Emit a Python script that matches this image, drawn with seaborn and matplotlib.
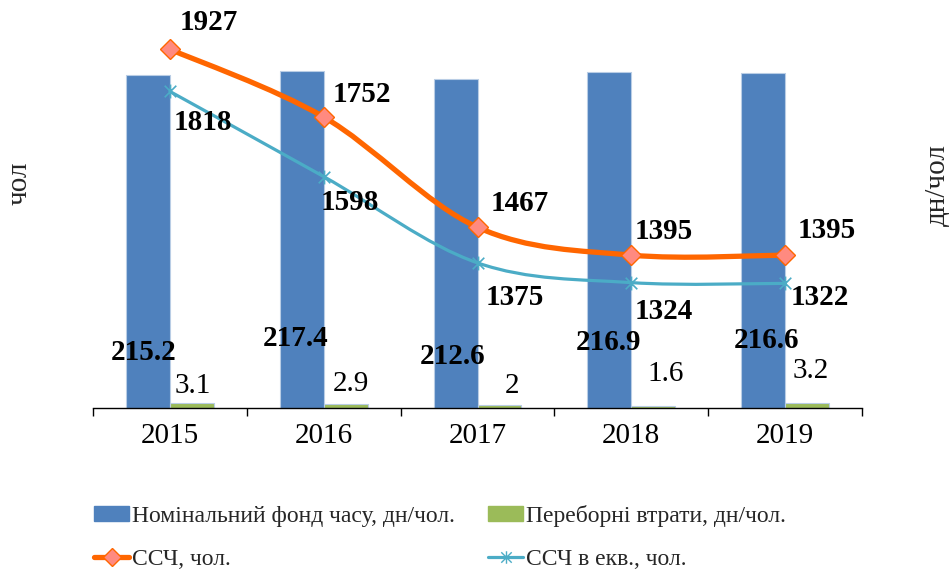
import numpy as np
import pandas as pd
import matplotlib
matplotlib.use("Agg")
import matplotlib.pyplot as plt
import seaborn as sns
from matplotlib.path import Path
from matplotlib.patches import PathPatch, Patch
from matplotlib.lines import Line2D

# data
years = ["2015", "2016", "2017", "2018", "2019"]
nominal_fund = [215.2, 217.4, 212.6, 216.9, 216.6]    # дн/чол.
shift_losses = [3.1, 2.9, 2.0, 1.6, 3.2]              # дн/чол.
headcount = [1927, 1752, 1467, 1395, 1395]            # ССЧ, чол.
headcount_eq = [1818, 1598, 1375, 1324, 1322]         # ССЧ в екв., чол.

bar_names = ["Номінальний фонд часу, дн/чол.", "Переборні втрати, дн/чол."]
line_names = ["ССЧ, чол.", "ССЧ в екв., чол."]

BLUE = "#4F81BD"
GREEN = "#9BBB59"
ORANGE = "#FF6600"
PINK = "#FF8A80"
CYAN = "#4BACC6"

sns.set_theme(style="white")
plt.rcParams["font.family"] = ["Liberation Serif", "DejaVu Serif"]

bars_df = pd.DataFrame({
    "year": years * 2,
    "value": nominal_fund + shift_losses,
    "series": [bar_names[0]] * len(years) + [bar_names[1]] * len(years),
})

fig = plt.figure(figsize=(9.49, 5.74), dpi=100)
ax = fig.add_axes([93 / 949, 1 - 408 / 574, (862 - 93) / 949, (408 - 21) / 574])

sns.barplot(data=bars_df, x="year", y="value", hue="series",
            palette=[BLUE, GREEN], saturation=1, width=0.57, gap=0, dodge=True,
            edgecolor="#B9CDE5", linewidth=0.8, legend=False, ax=ax)
ax.set_ylim(0, 250)
ax.set_xlim(-0.5, len(years) - 0.5)

# line series on the twin axis
ax2 = ax.twinx()
ax2.set_ylim(1000, 2000)


def smooth_path(xs, ys):
    # excel-like smoothed line drawn as cubic bezier segments through the points
    pts = np.column_stack([xs, ys]).astype(float)
    n = len(pts)
    verts = [pts[0]]
    codes = [Path.MOVETO]
    for i in range(n - 1):
        p_prev = pts[i - 1] if i > 0 else pts[i]
        p_next2 = pts[i + 2] if i + 2 < n else pts[i + 1]
        c1 = pts[i] + (pts[i + 1] - p_prev) / 6
        c2 = pts[i + 1] - (p_next2 - pts[i]) / 6
        verts += [c1, c2, pts[i + 1]]
        codes += [Path.CURVE4] * 3
    return Path(verts, codes)


xpos = np.arange(len(years))
ax2.add_patch(PathPatch(smooth_path(xpos, headcount_eq), fill=False,
                        edgecolor=CYAN, lw=2.3, capstyle="round", zorder=3))
ax2.add_patch(PathPatch(smooth_path(xpos, headcount), fill=False,
                        edgecolor=ORANGE, lw=3.8, capstyle="round", zorder=4))

star = Path([(-1, -1), (1, 1), (-1, 1), (1, -1), (0, -1.2), (0, 1.2)],
            [Path.MOVETO, Path.LINETO, Path.MOVETO, Path.LINETO, Path.MOVETO, Path.LINETO])
ax2.plot(xpos, headcount_eq, linestyle="none", marker=star, markersize=10,
         markeredgecolor=CYAN, markeredgewidth=1.2, zorder=5)
ax2.plot(xpos, headcount, linestyle="none", marker="D", markersize=10,
         markerfacecolor=PINK, markeredgecolor=ORANGE, markeredgewidth=1.0, zorder=6)

label_font = dict(fontsize=21, fontweight="bold", color="black", ha="center", va="center")

# data labels (pixel offsets, placed by hand in the original)
orange_off = [(39, 27), (38, 22), (42, 24), (32, 24), (42, 25)]
cyan_off = [(33, -31), (26, -26), (37, -35), (32, -29), (35, -14)]
for i, (v, off) in enumerate(zip(headcount, orange_off)):
    ax2.annotate(f"{v}", (i, v), xytext=off, textcoords="offset pixels", zorder=7, **label_font)
for i, (v, off) in enumerate(zip(headcount_eq, cyan_off)):
    ax2.annotate(f"{v}", (i, v), xytext=off, textcoords="offset pixels", zorder=7, **label_font)

blue_off = [(-4, 56), (-6, 70), (-3, 51), (-1, 66), (3, 68)]
green_off = [(1, 22), (5, 24), (13, 22), (12, 34), (4, 37)]
for bar, v, off in zip(ax.containers[0], nominal_fund, blue_off):
    ax.annotate(f"{v:g}", (bar.get_x() + bar.get_width() / 2, 0), xytext=off,
                textcoords="offset pixels", **label_font)
for bar, v, off in zip(ax.containers[1], shift_losses, green_off):
    ax.annotate(f"{v:g}", (bar.get_x() + bar.get_width() / 2, 0), xytext=off,
                textcoords="offset pixels", fontsize=21, color="black",
                ha="center", va="center")

# axes styling
for a in (ax, ax2):
    a.set_yticks([])
    a.set_ylabel("")
    for side in ("top", "left", "right"):
        a.spines[side].set_visible(False)
ax2.spines["bottom"].set_visible(False)
ax.spines["bottom"].set_color("black")
ax.spines["bottom"].set_linewidth(1.0)
ax.set_xlabel("")
ax.set_xticks(xpos)
ax.set_xticklabels(years, fontsize=21)
ax.set_xticks(np.arange(-0.5, len(years)), minor=True)
ax.tick_params(axis="x", which="major", length=0, pad=11, colors="black")
ax.tick_params(axis="x", which="minor", bottom=True, length=6, width=1.0,
               direction="out", color="black")

fig.text(20 / 949, 1 - 183 / 574, "чол", rotation=90, fontsize=21, ha="center", va="center")
fig.text(937 / 949, 1 - 185 / 574, "дн/чол", rotation=90, fontsize=21, ha="center", va="center")

handles = [
    Patch(facecolor=BLUE, edgecolor=BLUE),
    Line2D([], [], color=ORANGE, lw=3.8, marker="D", markersize=9,
           markerfacecolor=PINK, markeredgecolor=ORANGE),
    Patch(facecolor=GREEN, edgecolor=GREEN),
    Line2D([], [], color=CYAN, lw=2.3, marker=star, markersize=9,
           markeredgecolor=CYAN),
]
labels = [bar_names[0], line_names[0], bar_names[1], line_names[1]]
fig.legend(handles, labels, loc="upper left", bbox_to_anchor=(82 / 949, 1 - 493 / 574),
           ncol=2, frameon=False, fontsize=17, handlelength=1.5, handleheight=0.65,
           handletextpad=0.12, columnspacing=1.4, labelspacing=0.95, borderpad=0)

fig.savefig("out.png", dpi=100)
